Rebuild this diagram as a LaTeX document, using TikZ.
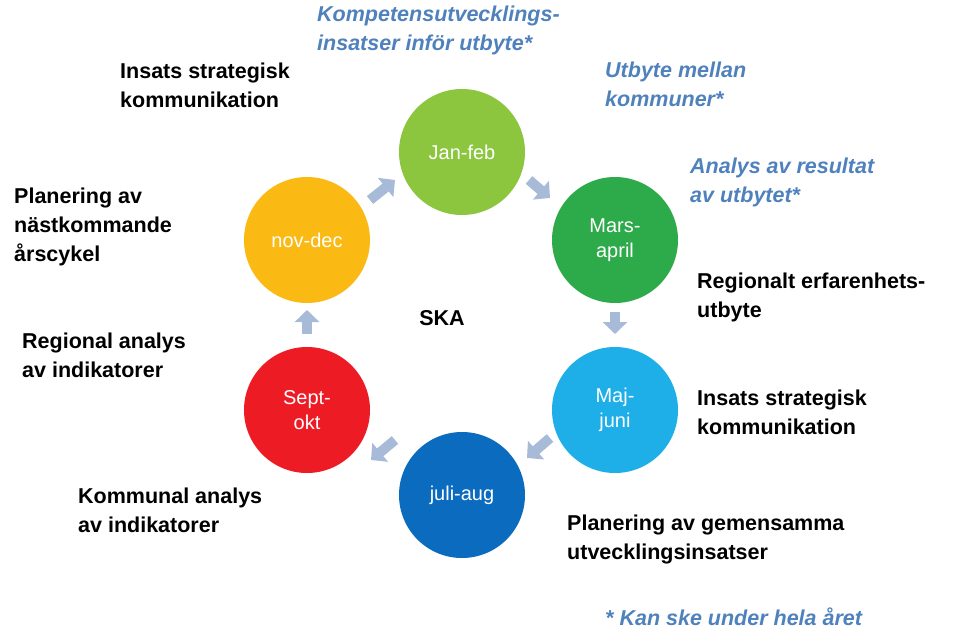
\documentclass[tikz,border=0pt]{standalone}
\usepackage{fontspec}
\setmainfont{Liberation Sans}
\usetikzlibrary{arrows.meta}
\definecolor{cj}{HTML}{8CC63F}
\definecolor{cm}{HTML}{2DAA4A}
\definecolor{cmj}{HTML}{1EAEE8}
\definecolor{cja}{HTML}{0A6BBF}
\definecolor{cs}{HTML}{ED1C24}
\definecolor{cn}{HTML}{FBB913}
\definecolor{arr}{HTML}{A7BAD8}
\definecolor{itb}{HTML}{4F81BD}
\begin{document}
\begin{tikzpicture}[x=1pt,y=-1pt,
  circ/.style={circle,minimum size=126pt,inner sep=0pt,text=white,font=\fontsize{20}{25}\selectfont,align=center},
  lab/.style={font=\bfseries\fontsize{21.5}{29}\selectfont,align=left,anchor=north west,inner sep=0pt},
  ital/.style={font=\bfseries\itshape\fontsize{21.5}{29}\selectfont,align=left,anchor=north west,inner sep=0pt,text=itb},
  blk/.style={draw=arr,line width=10pt,-{Triangle[width=24pt,length=12pt]}}]
\useasboundingbox (0,0) rectangle (970,640);
\node[circ,fill=cj] (a) at (462,152) {Jan-feb};
\node[circ,fill=cm] (b) at (615,240) {Mars-\\april};
\node[circ,fill=cmj] (c) at (615,410) {Maj-\\juni};
\node[circ,fill=cja] (d) at (462,495) {juli-aug};
\node[circ,fill=cs] (e) at (307,410) {Sept-\\okt};
\node[circ,fill=cn] (f) at (307,240) {nov-dec};
\node[font=\bfseries\fontsize{21.5}{25}\selectfont] (s) at (442,318) {SKA};
\coordinate (f1) at (370,200); \coordinate (a1) at (395,180);
\coordinate (a2) at (529,180); \coordinate (b2) at (550,198);
\coordinate (b3) at (615,312); \coordinate (c3) at (615,334);
\coordinate (c4) at (550,438); \coordinate (d4) at (527,458);
\coordinate (d5) at (395,440); \coordinate (e5) at (371,460);
\coordinate (e6) at (307,334); \coordinate (f6) at (307,310);
\draw[blk] (f1)--(a1); \draw[blk] (a2)--(b2); \draw[blk] (b3)--(c3);
\draw[blk] (c4)--(d4); \draw[blk] (d5)--(e5); \draw[blk] (e6)--(f6);
\node[ital] (t1) at (317,6) {Kompetensutvecklings-\\insatser inför utbyte*};
\node[ital] (t2) at (605,62) {Utbyte mellan\\kommuner*};
\node[ital] (t3) at (690,158) {Analys av resultat\\av utbytet*};
\node[lab] (t4) at (120,63) {Insats strategisk\\kommunikation};
\node[lab] (t5) at (14,188) {Planering av\\nästkommande\\årscykel};
\node[lab] (t6) at (22,333) {Regional analys\\av indikatorer};
\node[lab] (t7) at (78,488) {Kommunal analys\\av indikatorer};
\node[lab] (t8) at (697,273) {Regionalt erfarenhets-\\utbyte};
\node[lab] (t9) at (697,390) {Insats strategisk\\kommunikation};
\node[lab] (t10) at (567,515) {Planering av gemensamma\\utvecklingsinsatser};
\node[ital] (t11) at (605,608) {* Kan ske under hela året};
\end{tikzpicture}
\end{document}
